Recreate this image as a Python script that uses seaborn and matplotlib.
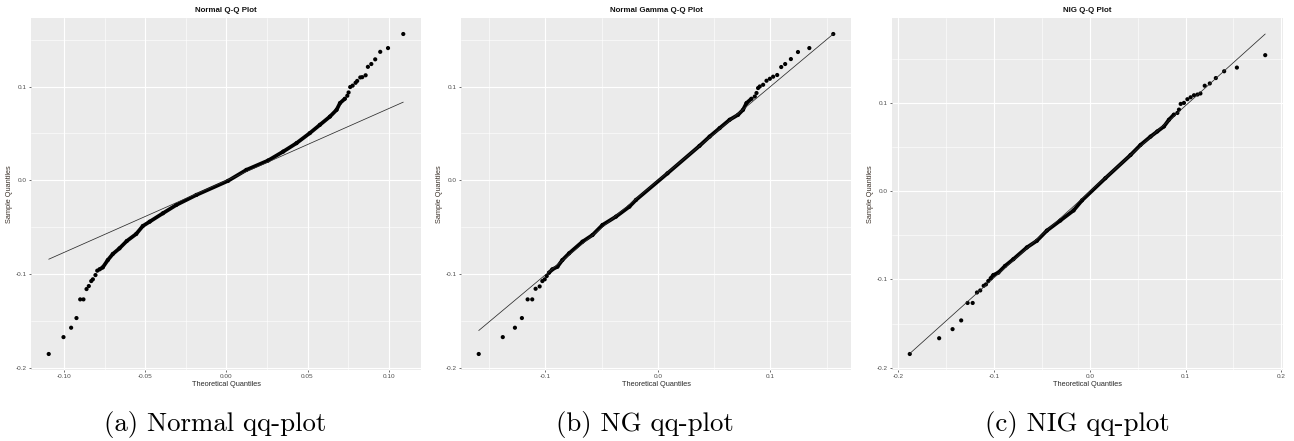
import matplotlib
matplotlib.use("Agg")
import matplotlib.pyplot as plt
from matplotlib.ticker import MultipleLocator, FormatStrFormatter
import seaborn as sns
import pandas as pd

# ---------------- data ----------------
titles = ["Normal Q-Q Plot", "Normal Gamma Q-Q Plot", "NIG Q-Q Plot"]
captions = ["(a) Normal qq-plot", "(b) NG qq-plot", "(c) NIG qq-plot"]
x_label = "Theoretical Quantiles"
y_label = "Sample Quantiles"

# Panel (a) Normal
a_tail_lo_x = [-0.1095, -0.1004, -0.0957, -0.0924, -0.0901, -0.0881, -0.0862, -0.0848, -0.0833, -0.0823, -0.0807, -0.0796]
a_tail_lo_y = [-0.185, -0.167, -0.157, -0.1467, -0.1268, -0.1268, -0.1158, -0.1126, -0.1073, -0.1054, -0.1009, -0.0962]
a_body_x = [-0.0782, -0.0762, -0.0731, -0.0700, -0.0659, -0.0614, -0.0556, -0.0515, -0.0473, -0.0391, -0.0309, -0.0185, 0.0010,
            0.0123, 0.0257, 0.0350, 0.0432, 0.0514, 0.0576, 0.0638, 0.0679, 0.0700, 0.0730]
a_body_y = [-0.0948, -0.0927, -0.0849, -0.0784, -0.0724, -0.0646, -0.0571, -0.0486, -0.0440, -0.0350, -0.0262, -0.0155, -0.0005,
            0.0112, 0.0212, 0.0307, 0.0397, 0.0504, 0.0592, 0.0680, 0.0752, 0.0824, 0.0870]
a_tail_hi_x = [0.0745, 0.0753, 0.0763, 0.0778, 0.0796, 0.0806, 0.0825, 0.0837, 0.0858, 0.0872, 0.0893, 0.0917, 0.0948, 0.0996, 0.1090]
a_tail_hi_y = [0.0902, 0.0937, 0.0995, 0.1010, 0.1040, 0.1060, 0.1097, 0.1100, 0.1120, 0.1210, 0.1240, 0.1290, 0.1370, 0.1410, 0.1560]
a_line_x = [-0.1095, 0.1090]
a_line_y = [-0.0840, 0.0834]

# Panel (b) Normal Gamma
b_tail_lo_x = [-0.1594, -0.1380, -0.1272, -0.1210, -0.1159, -0.1118, -0.1088, -0.1052, -0.1028, -0.1007, -0.0989]
b_tail_lo_y = [-0.185, -0.167, -0.157, -0.1467, -0.1268, -0.1268, -0.1155, -0.1130, -0.1073, -0.1054, -0.1019]
b_body_x = [-0.0969, -0.0939, -0.0894, -0.0850, -0.0790, -0.0671, -0.0582, -0.0493, -0.0373, -0.0254, -0.0195, 0.0085,
            0.0370, 0.0460, 0.0549, 0.0638, 0.0713, 0.0757, 0.0788, 0.0832]
b_body_y = [-0.0984, -0.0948, -0.0920, -0.0849, -0.0777, -0.0653, -0.0582, -0.0475, -0.0386, -0.0280, -0.0208, 0.0075,
            0.0368, 0.0467, 0.0557, 0.0646, 0.0699, 0.0752, 0.0824, 0.0870]
b_tail_hi_x = [0.0862, 0.0877, 0.0891, 0.0906, 0.0936, 0.0966, 0.0996, 0.1025, 0.1061, 0.1097, 0.1132, 0.1183, 0.1246, 0.1347, 0.1560]
b_tail_hi_y = [0.0894, 0.0931, 0.0984, 0.1001, 0.1019, 0.1062, 0.1083, 0.1105, 0.1123, 0.1208, 0.1240, 0.1293, 0.1368, 0.1410, 0.1560]
b_line_x = [-0.1594, 0.1560]
b_line_y = [-0.1600, 0.1560]

# Panel (c) NIG
c_tail_lo_x = [-0.1881, -0.1574, -0.1434, -0.1344, -0.1277, -0.1224, -0.1179, -0.1145, -0.1109, -0.1085, -0.1061]
c_tail_lo_y = [-0.1846, -0.1667, -0.1564, -0.1465, -0.1267, -0.1267, -0.1148, -0.1125, -0.1072, -0.1056, -0.1018]
c_body_x = [-0.1036, -0.1008, -0.0956, -0.0886, -0.0799, -0.0658, -0.0553, -0.0449, -0.0309, -0.0170, -0.0082, 0.0162,
            0.0425, 0.0529, 0.0634, 0.0704, 0.0774, 0.0826, 0.0878]
c_body_y = [-0.0988, -0.0950, -0.0923, -0.0847, -0.0770, -0.0637, -0.0561, -0.0446, -0.0332, -0.0217, -0.0103, 0.0149,
            0.0412, 0.0526, 0.0621, 0.0679, 0.0736, 0.0812, 0.0870]
c_tail_hi_x = [0.0914, 0.0931, 0.0949, 0.0983, 0.1019, 0.1053, 0.1088, 0.1124, 0.1155, 0.1200, 0.1253, 0.1316, 0.1403, 0.1536, 0.1832]
c_tail_hi_y = [0.0889, 0.0927, 0.0992, 0.1003, 0.1045, 0.1067, 0.1090, 0.1098, 0.1110, 0.1198, 0.1224, 0.1285, 0.1362, 0.1404, 0.1545]
c_line_x = [-0.1880, 0.1832]
c_line_y = [-0.1840, 0.1785]

x_major = [0.05, 0.1, 0.1]
x_fmt = ["%.2f", "%.1f", "%.1f"]

panels = [
    (a_tail_lo_x, a_tail_lo_y, a_body_x, a_body_y, a_tail_hi_x, a_tail_hi_y, a_line_x, a_line_y),
    (b_tail_lo_x, b_tail_lo_y, b_body_x, b_body_y, b_tail_hi_x, b_tail_hi_y, b_line_x, b_line_y),
    (c_tail_lo_x, c_tail_lo_y, c_body_x, c_body_y, c_tail_hi_x, c_tail_hi_y, c_line_x, c_line_y),
]

# ---------------- styling ----------------
sns.set_theme(style="darkgrid", rc={
    "axes.facecolor": "#EBEBEB",
    "grid.color": "white",
    "axes.edgecolor": "#EBEBEB",
})
plt.rcParams["font.family"] = ["Liberation Sans", "DejaVu Sans"]
plt.rcParams["axes.unicode_minus"] = False

W, H = 1294, 441
fig = plt.figure(figsize=(W / 100, H / 100), dpi=100)

lefts = [31, 461, 892]
rights = [421, 851, 1283]
top_px, bot_px = 18, 370
sub_centers = [215, 645, 1077]

for i, (tlx, tly, bx, by, thx, thy, lx, ly) in enumerate(panels):
    ax = fig.add_axes([lefts[i] / W, 1 - bot_px / H, (rights[i] - lefts[i]) / W, (bot_px - top_px) / H])
    ax.set_facecolor("#EBEBEB")
    for s in ax.spines.values():
        s.set_visible(False)

    body = pd.DataFrame({"x": bx, "y": by})
    pts = pd.DataFrame({"x": tlx + bx + thx, "y": tly + by + thy})
    qline = pd.DataFrame({"x": lx, "y": ly})

    sns.lineplot(data=body, x="x", y="y", ax=ax, color="black", lw=2.7,
                 estimator=None, solid_capstyle="round", zorder=3)
    sns.scatterplot(data=pts, x="x", y="y", ax=ax, color="black", s=9,
                    edgecolor="none", linewidth=0, zorder=4)
    sns.lineplot(data=qline, x="x", y="y", ax=ax, color="#2b2b2b", lw=0.55,
                 estimator=None, zorder=5)

    ax.margins(x=0.05, y=0.05)
    ax.autoscale_view()

    ax.xaxis.set_major_locator(MultipleLocator(x_major[i]))
    ax.xaxis.set_minor_locator(MultipleLocator(x_major[i] / 2))
    ax.xaxis.set_major_formatter(FormatStrFormatter(x_fmt[i]))
    ax.yaxis.set_major_locator(MultipleLocator(0.1))
    ax.yaxis.set_minor_locator(MultipleLocator(0.05))
    ax.yaxis.set_major_formatter(FormatStrFormatter("%.1f"))

    ax.grid(which="major", color="white", lw=0.8)
    ax.grid(which="minor", color="white", lw=0.4)
    ax.tick_params(which="major", length=1.6, width=0.5, color="#333333",
                   labelsize=4.6, labelcolor="#4D4D4D", pad=1.2,
                   bottom=True, left=True)
    ax.tick_params(which="minor", length=0)

    ax.set_xlabel(x_label, fontsize=5.3, color="#2a2a2a", labelpad=1.5)
    ax.set_ylabel(y_label, fontsize=5.3, color="#3b3129", labelpad=2.5)
    ax.set_title(titles[i], fontsize=5.7, fontweight="bold", color="#111111", pad=4)

    fig.text(sub_centers[i] / W, 1 - 431 / H, captions[i], family="cmr10",
             fontsize=19.3, ha="center", va="baseline", color="black")

fig.savefig("out.png", dpi=100, facecolor="white")
